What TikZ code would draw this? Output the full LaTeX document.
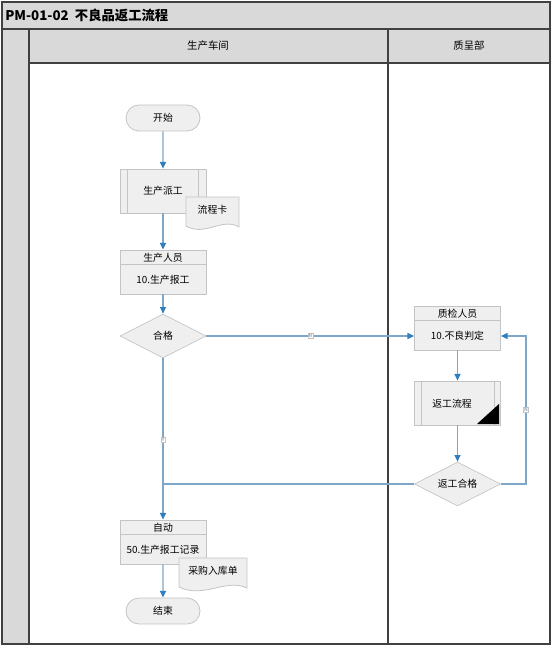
\documentclass[tikz,border=0pt]{standalone}
\usepackage{fontspec}
\setmainfont{Noto Sans CJK SC}
\usetikzlibrary{shapes.geometric,shapes.misc,arrows.meta}
\definecolor{lanegray}{HTML}{D9D9D9}
\definecolor{frame}{HTML}{404040}
\definecolor{boxfill}{HTML}{EFEFEF}
\definecolor{boxdraw}{HTML}{C4C4C4}
\definecolor{conn}{HTML}{7EA6C8}
\definecolor{tipblue}{HTML}{2F7EC0}
\tikzset{
  lane/.style={draw=frame,line width=1.1pt},
  txt/.style={font=\fontsize{7.4pt}{8pt}\selectfont,text=black,inner sep=0pt},
  terminal/.style={rounded rectangle,draw=boxdraw,fill=boxfill,line width=0.6pt,minimum width=55.5pt,minimum height=19.5pt,inner sep=0pt,font=\fontsize{7.4pt}{8pt}\selectfont},
  procbox/.style={rectangle,draw=boxdraw,fill=boxfill,line width=0.6pt,minimum width=64.5pt,minimum height=33pt,inner sep=0pt,font=\fontsize{7.4pt}{8pt}\selectfont},
  decision/.style={diamond,draw=boxdraw,fill=boxfill,line width=0.5pt,minimum width=64.5pt,minimum height=33pt,aspect=1.95,inner sep=0pt,font=\fontsize{7.4pt}{8pt}\selectfont},
  flow/.style={draw=conn,line width=0.9pt,-{Triangle[length=5pt,width=4.5pt,color=tipblue]}},
  plainflow/.style={draw=conn,line width=0.9pt},
  tag/.style={font=\fontsize{3.5pt}{4pt}\selectfont,fill=white,draw=boxdraw,line width=0.2pt,inner sep=0.6pt,text=conn!70!black}
}
\begin{document}
\begin{tikzpicture}[x=0.75pt,y=-0.75pt]
\useasboundingbox (0,0) rectangle (554,648);
% ---- swimlane frame ----
\fill[lanegray] (2,2) rectangle (550,29);
\fill[lanegray] (2,29) rectangle (29,644);
\fill[lanegray] (29,29) rectangle (550,63);
\draw[lane] (2,2) rectangle (550,644);
\draw[lane] (2,29) -- (550,29);
\draw[lane] (29,29) -- (29,644);
\draw[lane] (29,63) -- (550,63);
\draw[lane] (388,29) -- (388,644);
\node[anchor=west,inner sep=0pt,font=\fontsize{10pt}{12pt}\selectfont\bfseries] (title) at (5,15) {PM-01-02\ \ 不良品返工流程};
\node[txt,font=\fontsize{7.8pt}{9pt}\selectfont] (lane1) at (208,46) {生产车间};
\node[txt,font=\fontsize{7.8pt}{9pt}\selectfont] (lane2) at (469,46) {质呈部};

% ---- nodes ----
\node[terminal] (start) at (163,118) {开始};
\node[procbox] (dispatch) at (163,191) {生产派工};
\draw[boxdraw,line width=0.6pt] ([xshift=6pt]dispatch.north west) -- ([xshift=6pt]dispatch.south west);
\draw[boxdraw,line width=0.6pt] ([xshift=-6pt]dispatch.north east) -- ([xshift=-6pt]dispatch.south east);

% document 流程卡
\draw[boxdraw,fill=boxfill,line width=0.6pt] (186,197) -- (239,197) -- (239,227)
  .. controls (222,217) and (205,237) .. (186,226) -- cycle;
\node[txt] (card) at (212.5,210) {流程卡};

% 生产人员 box
\node[procbox] (report) at (163,272) {};
\draw[boxdraw,line width=0.6pt] ([yshift=-11.25pt]report.north west) -- ([yshift=-11.25pt]report.north east);
\node[txt] (reporthead) at (163,257.5) {生产人员};
\node[txt] (reportbody) at (163,279.5) {10.生产报工};

\node[decision] (ok1) at (163,336) {合格};

% 质检人员 box
\node[procbox] (judge) at (457.5,328) {};
\draw[boxdraw,line width=0.6pt] ([yshift=-11.25pt]judge.north west) -- ([yshift=-11.25pt]judge.north east);
\node[txt] (judgehead) at (457.5,313.5) {质检人员};
\node[txt] (judgebody) at (457.5,335.5) {10.不良判定};

% 返工流程 subprocess
\node[procbox] (rework) at (457.5,403) {};
\draw[boxdraw,line width=0.6pt] ([xshift=5.25pt]rework.north west) -- ([xshift=5.25pt]rework.south west);
\draw[boxdraw,line width=0.6pt] ([xshift=-5.25pt]rework.north east) -- ([xshift=-5.25pt]rework.south east);
\fill[black] (477,424) -- (499,424) -- (499,404) -- cycle;
\node[txt] (reworktxt) at (452,404) {返工流程};

\node[decision] (ok2) at (457.5,484) {返工合格};

% 自动 box
\node[procbox] (auto) at (163,542) {};
\draw[boxdraw,line width=0.6pt] ([yshift=-11.25pt]auto.north west) -- ([yshift=-11.25pt]auto.north east);
\node[txt] (autohead) at (163,527.5) {自动};
\node[txt] (autobody) at (163,549.5) {50.生产报工记录};

% document 采购入库单
\draw[boxdraw,fill=boxfill,line width=0.6pt] (179,558) -- (247,558) -- (247,588)
  .. controls (226,578) and (204,599) .. (179,587) -- cycle;
\node[txt] (po) at (213,571) {采购入库单};

\node[terminal] (end) at (163,611) {结束};

% ---- connectors ----
\coordinate (join) at (163,484);
\coordinate (loopA) at (526,484);
\coordinate (loopB) at (526,336);
\draw[flow] (start) -- (dispatch);
\draw[flow] (dispatch) -- (report);
\draw[flow] (report) -- (ok1);
\draw[flow] (ok1.east) -- node[tag,pos=0.5] {N} (ok1.east -| judge.west);
\draw[flow] (judge) -- (rework);
\draw[flow] (rework) -- (ok2);
\draw[flow] (ok2.east) -- (loopA) -- node[tag,pos=0.5] {N} (loopB) -- (loopB -| judge.east);
\draw[plainflow] (ok1) -- node[tag,pos=0.65] {Y} (join);
\draw[plainflow] (ok2.west) -- (join);
\draw[flow] (join) -- (auto);
\draw[flow] (auto) -- (end);
\end{tikzpicture}
\end{document}
